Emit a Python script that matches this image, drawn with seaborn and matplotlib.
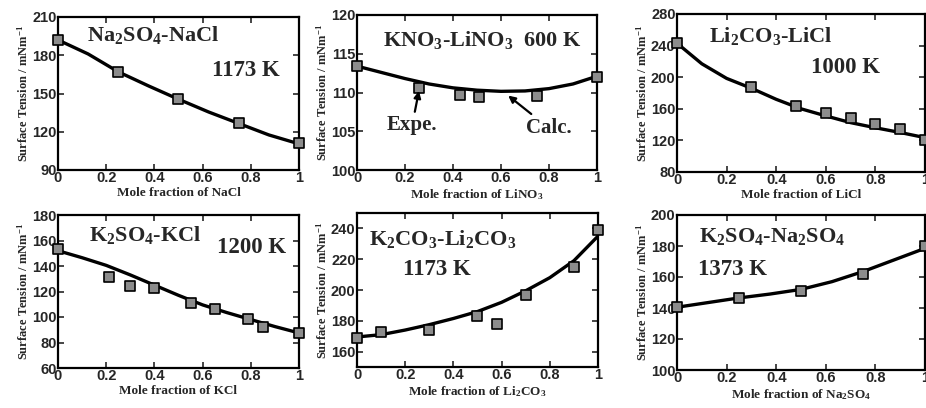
import numpy as np
import pandas as pd
import matplotlib
matplotlib.use("Agg")
import matplotlib.pyplot as plt
import seaborn as sns

# ---------------- data ----------------
# Panel 1: Na2SO4-NaCl 1173 K
p1_exp_x = [0.0, 0.25, 0.5, 0.75, 1.0]
p1_exp_y = [192, 167, 146, 127, 111]
p1_calc_x = [0.0, 0.125, 0.25, 0.375, 0.5, 0.625, 0.75, 0.875, 1.0]
p1_calc_y = [192, 181, 167, 156, 145.5, 135.5, 126.5, 117.5, 110.5]

# Panel 2: KNO3-LiNO3 600 K
p2_exp_x = [0.0, 0.26, 0.43, 0.51, 0.75, 1.0]
p2_exp_y = [113.4, 110.6, 109.7, 109.4, 109.5, 112.0]
p2_calc_x = [0.0, 0.1, 0.2, 0.3, 0.4, 0.5, 0.6, 0.7, 0.8, 0.9, 1.0]
p2_calc_y = [113.4, 112.6, 111.8, 111.1, 110.6, 110.3, 110.15, 110.2, 110.5, 111.1, 112.1]

# Panel 3: Li2CO3-LiCl 1000 K
p3_exp_x = [0.0, 0.3, 0.48, 0.6, 0.7, 0.8, 0.9, 1.0]
p3_exp_y = [243, 188, 164, 155, 148, 141, 135, 121]
p3_calc_x = [0.0, 0.1, 0.2, 0.3, 0.4, 0.5, 0.6, 0.7, 0.8, 0.9, 1.0]
p3_calc_y = [243, 217, 198.5, 186, 172, 160, 151, 142.5, 136, 130, 123.5]

# Panel 4: K2SO4-KCl 1200 K
p4_exp_x = [0.0, 0.21, 0.3, 0.4, 0.55, 0.65, 0.79, 0.85, 1.0]
p4_exp_y = [153, 131.7, 124.4, 123, 110.8, 106, 98.5, 92, 87.3]
p4_calc_x = [0.0, 0.1, 0.2, 0.3, 0.4, 0.5, 0.6, 0.7, 0.8, 0.9, 1.0]
p4_calc_y = [152, 146.5, 140.5, 133, 125, 117, 109.5, 103.5, 98, 92.5, 87.5]

# Panel 5: K2CO3-Li2CO3 1173 K
p5_exp_x = [0.0, 0.1, 0.3, 0.5, 0.58, 0.7, 0.9, 1.0]
p5_exp_y = [168.6, 173, 174, 182.8, 177.8, 196.8, 214.7, 239]
p5_calc_x = [0.0, 0.1, 0.2, 0.3, 0.4, 0.5, 0.6, 0.7, 0.8, 0.9, 1.0]
p5_calc_y = [169.5, 171, 174, 177.5, 181.5, 186, 192, 199.5, 208, 219, 235]

# Panel 6: K2SO4-Na2SO4 1373 K
p6_exp_x = [0.0, 0.25, 0.5, 0.75, 1.0]
p6_exp_y = [140.4, 146.2, 151, 161.7, 180.2]
p6_calc_x = [0.0, 0.125, 0.25, 0.375, 0.5, 0.625, 0.75, 0.875, 1.0]
p6_calc_y = [140.5, 143.5, 146.5, 149, 152, 157, 163.5, 171, 178.5]

titles = ["Na$_2$SO$_4$-NaCl", "KNO$_3$-LiNO$_3$  600 K", "Li$_2$CO$_3$-LiCl",
          "K$_2$SO$_4$-KCl", "K$_2$CO$_3$-Li$_2$CO$_3$", "K$_2$SO$_4$-Na$_2$SO$_4$"]
temps = ["1173 K", None, "1000 K", "1200 K", "1173 K", "1373 K"]
xlabels = ["Mole fraction of NaCl", "Mole fraction of LiNO$_3$", "Mole fraction of LiCl",
           "Mole fraction of KCl", "Mole fraction of Li$_2$CO$_3$", "Mole fraction of Na$_2$SO$_4$"]
ylims = [(90, 210), (100, 120), (80, 280), (60, 180), (150, 250), (100, 200)]
yticks = [[90, 120, 150, 180, 210], [100, 105, 110, 115, 120], [80, 120, 160, 200, 240, 280],
          [60, 80, 100, 120, 140, 160, 180], [160, 180, 200, 220, 240], [100, 120, 140, 160, 180, 200]]
xticks = [0, 0.2, 0.4, 0.6, 0.8, 1.0]
xticklabels = ["0", "0.2", "0.4", "0.6", "0.8", "1"]

# ---------------- style ----------------
sns.set_style("ticks")
plt.rcParams["font.family"] = ["Liberation Sans", "DejaVu Sans"]
plt.rcParams["mathtext.fontset"] = "custom"
plt.rcParams["mathtext.rm"] = "Liberation Serif:bold"
plt.rcParams["mathtext.it"] = "Liberation Serif:bold"
plt.rcParams["mathtext.bf"] = "Liberation Serif:bold"
plt.rcParams["mathtext.default"] = "rm"

W, H = 926, 408
fig = plt.figure(figsize=(W / 100, H / 100), dpi=100)

# axes boxes in pixels: left, right, top, bottom
boxes = [(58, 299, 17, 170), (357, 597, 15, 170), (677, 925, 14, 172),
         (58, 299, 215, 368), (357, 598, 213, 367), (677, 925, 215, 370)]

# title positions (axes fraction)
name_pos = [(0.12, 0.88), (0.11, 0.84), (0.13, 0.86), (0.13, 0.87), (0.05, 0.83), (0.09, 0.86)]
temp_pos = [(0.64, 0.65), None, (0.54, 0.66), (0.66, 0.79), (0.19, 0.63), (0.085, 0.65)]

exp_x = [p1_exp_x, p2_exp_x, p3_exp_x, p4_exp_x, p5_exp_x, p6_exp_x]
exp_y = [p1_exp_y, p2_exp_y, p3_exp_y, p4_exp_y, p5_exp_y, p6_exp_y]
calc_x = [p1_calc_x, p2_calc_x, p3_calc_x, p4_calc_x, p5_calc_x, p6_calc_x]
calc_y = [p1_calc_y, p2_calc_y, p3_calc_y, p4_calc_y, p5_calc_y, p6_calc_y]

serif_bold = dict(family="Liberation Serif", weight="bold")

for i, (l, r, t, b) in enumerate(boxes):
    ax = fig.add_axes([l / W, (H - b) / H, (r - l) / W, (b - t) / H])
    dfc = pd.DataFrame({"x": calc_x[i], "y": calc_y[i]})
    dfe = pd.DataFrame({"x": exp_x[i], "y": exp_y[i]})
    sns.lineplot(data=dfc, x="x", y="y", ax=ax, color="black", linewidth=2.4, zorder=2)
    sns.scatterplot(data=dfe, x="x", y="y", ax=ax, marker="s", s=62, color="#8c8c8c",
                    edgecolor="black", linewidth=1.2, zorder=3, clip_on=False)
    ax.set_xlim(0, 1)
    ax.set_ylim(*ylims[i])
    ax.set_xticks(xticks)
    ax.set_xticklabels(xticklabels)
    ax.set_yticks(yticks[i])
    ax.tick_params(direction="in", top=True, right=True, length=4, width=1.2,
                   labelsize=10.5, pad=1)
    for lab in ax.get_xticklabels() + ax.get_yticklabels():
        lab.set_fontweight("bold")
    for sp in ax.spines.values():
        sp.set_linewidth(1.6)
        sp.set_color("black")
    ax.set_xlabel(xlabels[i], fontsize=9.5, labelpad=1, **serif_bold)
    ax.set_ylabel("Surface Tension / mNm$^{-1}$", fontsize=9, labelpad=1, **serif_bold)
    nx, ny = name_pos[i]
    ax.text(nx, ny, titles[i], transform=ax.transAxes, fontsize=16, va="center", ha="left",
            **serif_bold)
    if temps[i] is not None:
        tx, ty = temp_pos[i]
        ax.text(tx, ty, temps[i], transform=ax.transAxes, fontsize=16.5, va="center", ha="left",
                **serif_bold)
    if i == 1:
        ax.annotate("Expe.", xy=(0.258, 110.2), xytext=(0.23, 105.8), fontsize=15,
                    ha="center", va="center", zorder=5, **serif_bold,
                    arrowprops=dict(arrowstyle="-|>", color="black", lw=1.6,
                                    mutation_scale=10, shrinkA=0, shrinkB=0))
        ax.annotate("Calc.", xy=(0.63, 109.6), xytext=(0.8, 105.4), fontsize=15,
                    ha="center", va="center", zorder=5, **serif_bold,
                    arrowprops=dict(arrowstyle="-|>", color="black", lw=1.6,
                                    mutation_scale=10, shrinkA=1, shrinkB=0))

fig.savefig("out.png", dpi=100)
